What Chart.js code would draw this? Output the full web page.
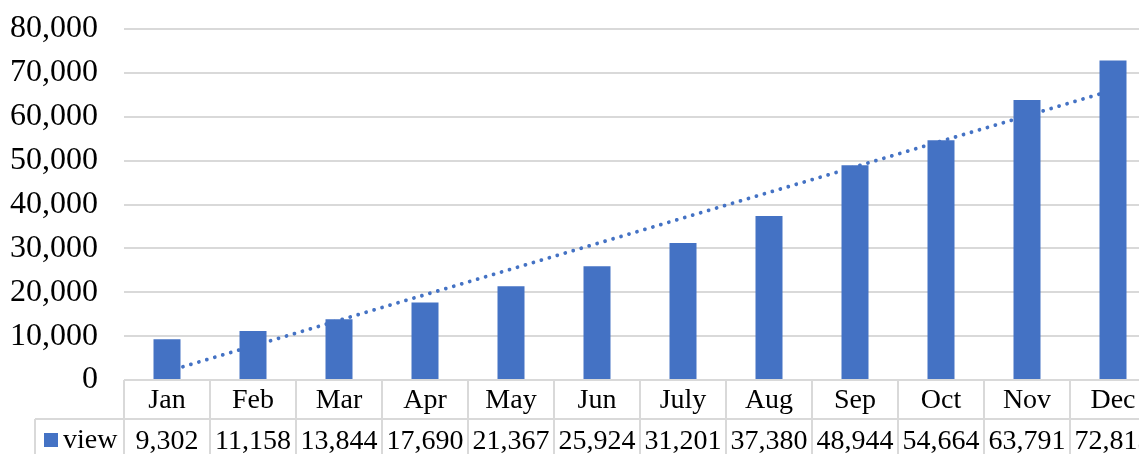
<!DOCTYPE html>
<html>
<head>
<meta charset="utf-8">
<script src="https://cdn.jsdelivr.net/npm/chart.js@4"></script>
<style>
  html, body { margin: 0; padding: 0; background: #fff; overflow: hidden; }
  #wrap { width: 1170px; height: 454px; }
</style>
</head>
<body>
<div id="wrap"><canvas id="chart"></canvas></div>
<script>
const months = ["Jan", "Feb", "Mar", "Apr", "May", "Jun", "July", "Aug", "Sep", "Oct", "Nov", "Dec"];
const views = [9302, 11158, 13844, 17690, 21367, 25924, 31201, 37380, 48944, 54664, 63791, 72813];
const yTicks = [0, 10000, 20000, 30000, 40000, 50000, 60000, 70000, 80000];
const seriesName = "view";

const BLUE = "#4472C4";
const GRID = "#d9d9d9";
const FONT = "'Liberation Serif', 'Times New Roman', serif";

// linear trendline (least squares over category index)
function trend(vals) {
  const n = vals.length;
  const mx = (n + 1) / 2;
  const my = vals.reduce((a, b) => a + b, 0) / n;
  let sxy = 0, sxx = 0;
  vals.forEach((v, i) => {
    sxy += (i + 1 - mx) * (v - my);
    sxx += (i + 1 - mx) * (i + 1 - mx);
  });
  const k = sxy / sxx;
  return vals.map((v, i) => my + k * (i + 1 - mx));
}

// --- data table under the plot
const dataTable = {
  id: "dataTable",
  afterDraw(chart) {
    const ctx = chart.ctx;
    const x = chart.scales.x;
    const area = chart.chartArea;
    const top = area.bottom;
    const rowH = 39;
    const step = x.getPixelForValue(1) - x.getPixelForValue(0);
    const left = x.getPixelForValue(0) - step / 2;
    const right = left + step * months.length;
    const bottom = chart.height + 10;

    ctx.save();
    ctx.strokeStyle = GRID;
    ctx.lineWidth = 2;
    ctx.beginPath();
    ctx.moveTo(left, top); ctx.lineTo(right, top);
    ctx.moveTo(35, top + rowH); ctx.lineTo(right, top + rowH);
    ctx.moveTo(35, top + rowH); ctx.lineTo(35, bottom);
    for (let i = 0; i <= months.length; i++) {
      const px = left + step * i;
      ctx.moveTo(px, top); ctx.lineTo(px, bottom);
    }
    ctx.stroke();

    ctx.fillStyle = "#000";
    ctx.font = "28px " + FONT;
    ctx.textAlign = "center";
    ctx.textBaseline = "alphabetic";
    months.forEach((m, i) => {
      const cx = x.getPixelForValue(i);
      ctx.fillText(m, cx, top + 28);
      ctx.fillText(views[i].toLocaleString("en-US"), cx, top + 69);
    });

    ctx.fillStyle = BLUE;
    ctx.fillRect(44, top + 53, 14, 14);
    ctx.fillStyle = "#000";
    ctx.textAlign = "left";
    ctx.fillText(seriesName, 63, top + 68);
    ctx.restore();
  }
};

new Chart(document.getElementById("chart"), {
  type: "bar",
  data: {
    labels: months,
    datasets: [
      {
        label: seriesName,
        data: views,
        backgroundColor: BLUE,
        categoryPercentage: 1,
        barPercentage: 0.314,
        order: 1
      },
      {
        type: "line",
        label: "trend",
        data: trend(views),
        borderColor: BLUE,
        borderWidth: 3.8,
        borderDash: [0.01, 8.3],
        borderCapStyle: "round",
        pointRadius: 0,
        fill: false,
        order: 2
      }
    ]
  },
  plugins: [dataTable],
  options: {
    responsive: true,
    maintainAspectRatio: false,
    animation: false,
    layout: { padding: { top: 29, right: 14, bottom: 74, left: 0 } },
    plugins: {
      legend: { display: false },
      tooltip: { enabled: false }
    },
    scales: {
      x: {
        display: false,
        offset: true
      },
      y: {
        min: 0,
        max: 80000,
        afterBuildTicks(scale) {
          scale.ticks = yTicks.map(v => ({ value: v }));
        },
        afterFit(scale) {
          scale.width = 124;
          scale.paddingTop = 0;
          scale.paddingBottom = 0;
        },
        border: { display: false },
        grid: { color: GRID, lineWidth: 2, drawTicks: false },
        ticks: {
          color: "#000",
          padding: 26,
          font: { family: FONT, size: 32 },
          callback: v => v.toLocaleString("en-US")
        }
      }
    }
  }
});
</script>
</body>
</html>
